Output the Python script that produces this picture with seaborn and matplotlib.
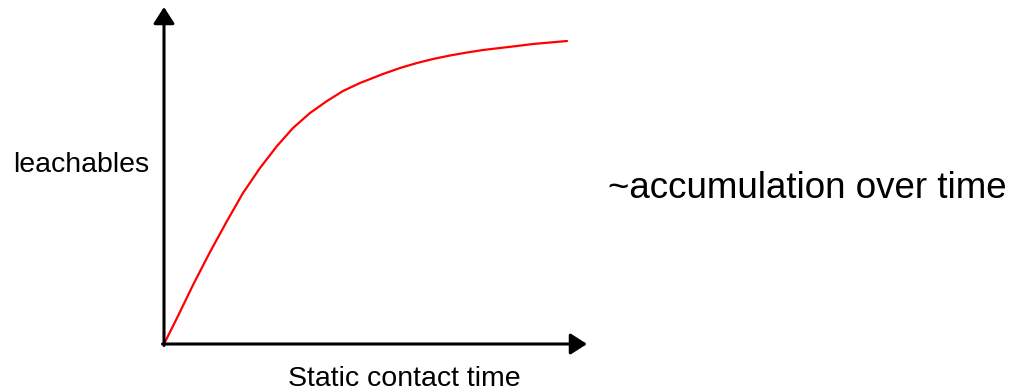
import numpy as np
import pandas as pd
import matplotlib
matplotlib.use("Agg")
import matplotlib.pyplot as plt
import seaborn as sns

# values (arbitrary units)
contact_time = [0, 13, 29, 46, 63, 79, 96, 113, 129, 146, 163, 179, 196,
                219, 236, 253, 269, 286, 303, 319, 336, 353, 369, 386, 403]
leachables = [0, 26, 59, 92, 123, 151, 176, 198, 216, 231, 243, 253, 261,
              270, 276, 281, 285, 288.5, 291.5, 294, 296, 298, 300, 301.5, 303]
x_max = 423
y_max = 337

sns.set_style("white")
plt.rcParams["font.family"] = ["Liberation Sans", "DejaVu Sans"]
plt.rcParams["text.color"] = "black"

df = pd.DataFrame({"time": contact_time, "leach": leachables})

fig = plt.figure(figsize=(10.15, 3.9), dpi=100)
ax = fig.add_axes([164 / 1015, 46 / 390, 423 / 1015, 337 / 390])

sns.lineplot(data=df, x="time", y="leach", color="red", lw=1.6, ax=ax,
             solid_joinstyle="round", solid_capstyle="round")

ax.set_xlim(0, x_max)
ax.set_ylim(0, y_max)
ax.set_xticks([])
ax.set_yticks([])
ax.set_xlabel("")
ax.set_ylabel("")
for s in ax.spines.values():
    s.set_visible(False)
ax.patch.set_alpha(0)

# axis arrows
arrow = dict(arrowstyle="-|>,head_length=0.5,head_width=0.32", mutation_scale=20,
             lw=2.2, color="black", shrinkA=0, shrinkB=0)
ax.annotate("", xy=(x_max, 0), xytext=(-1.5, 0), arrowprops=arrow, annotation_clip=False)
ax.annotate("", xy=(0, y_max), xytext=(0, -1.5), arrowprops=arrow, annotation_clip=False)

fig.text(13 / 1015, 1 - 172 / 390, "leachables", fontsize=20.5, va="baseline", ha="left")
fig.text(288 / 1015, 4 / 390, "Static contact time", fontsize=20.5, va="baseline", ha="left")
fig.text(608 / 1015, 1 - 198 / 390, "~accumulation over time", fontsize=26.5, va="baseline", ha="left")

fig.savefig("out.png", dpi=100)
